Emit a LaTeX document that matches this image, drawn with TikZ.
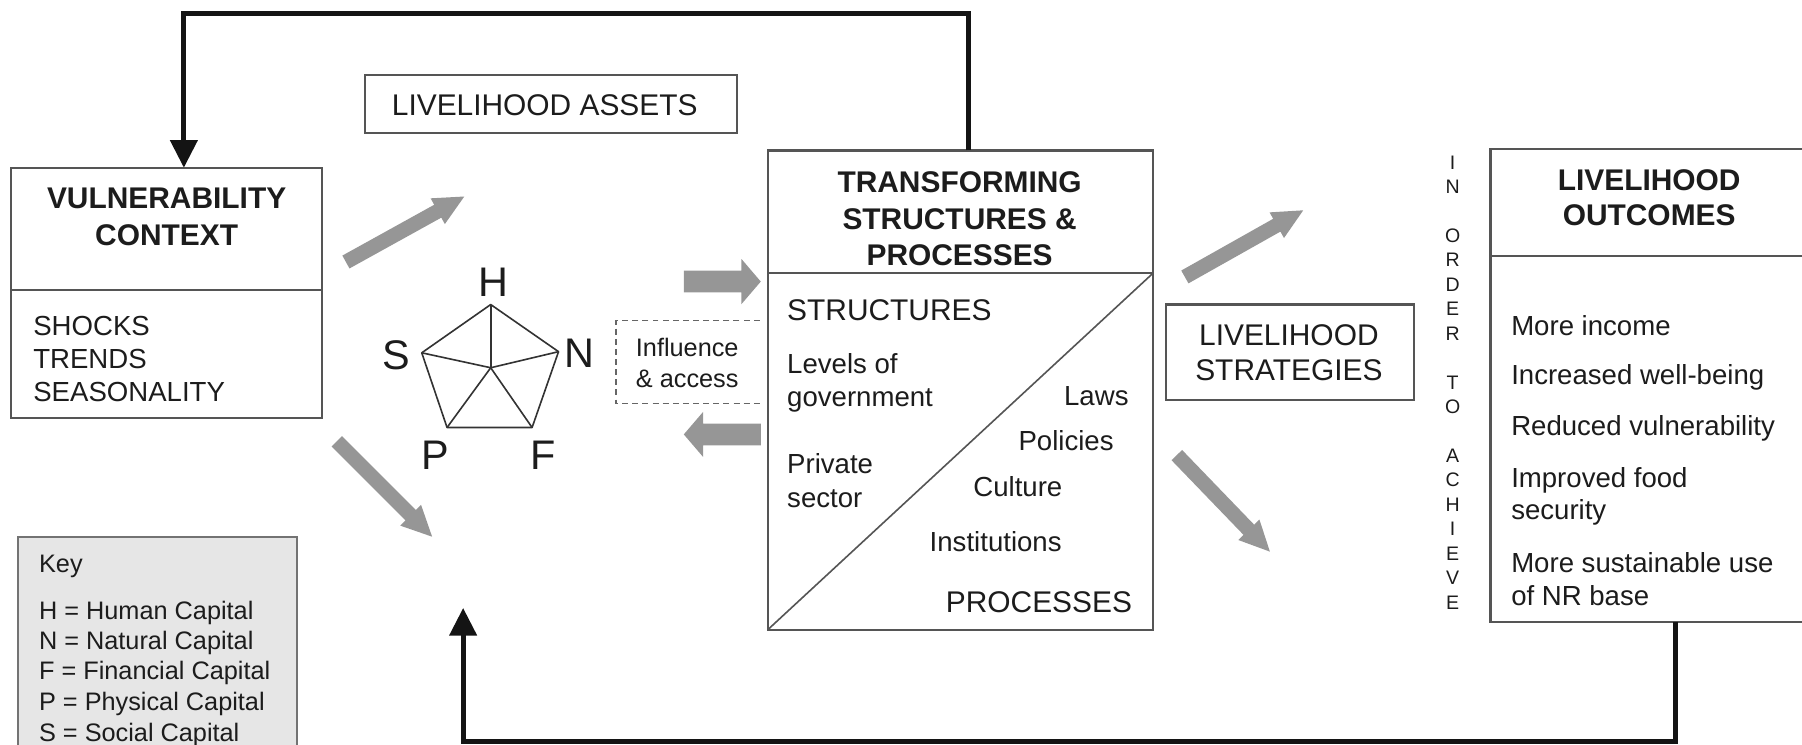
\documentclass[tikz,border=0pt]{standalone}
\usepackage{fontspec}
\setmainfont{Liberation Sans}
\usetikzlibrary{arrows.meta,calc}
\definecolor{boxline}{RGB}{85,85,85}
\definecolor{arrowgray}{RGB}{150,150,150}
\definecolor{keyfill}{RGB}{230,230,230}
\definecolor{inkc}{RGB}{28,28,28}
% #1 tail, #2 tip, #3 shaft half width, #4 head half width, #5 head length
\newcommand{\garrow}[5]{%
  \fill[arrowgray] let \p1=#1, \p2=#2, \n1={atan2(\y2-\y1,\x2-\x1)} in
    ($(\p1)+(\n1+90:#3)$) -- ($(\p2)+(\n1+180:#5)+(\n1+90:#3)$)
    -- ($(\p2)+(\n1+180:#5)+(\n1+90:#4)$) -- (\p2)
    -- ($(\p2)+(\n1+180:#5)+(\n1-90:#4)$) -- ($(\p2)+(\n1+180:#5)+(\n1-90:#3)$)
    -- ($(\p1)+(\n1-90:#3)$) -- cycle;}
\tikzset{
  fB/.style={font=\fontsize{18.5}{22}\selectfont\bfseries},
  fL/.style={font=\fontsize{18.5}{22}\selectfont},
  fM/.style={font=\fontsize{17.07}{20}\selectfont},
  fS/.style={font=\fontsize{15.65}{18}\selectfont},
  fP/.style={font=\fontsize{25.6}{30}\selectfont},
  fV/.style={font=\fontsize{12.1}{14}\selectfont},
  txt/.style={inner sep=0pt, outer sep=0pt, text=inkc},
  box/.style={draw=boxline, line width=0.045cm, inner sep=0pt, outer sep=0pt, fill=white},
  divider/.style={draw=boxline, line width=0.045cm},
  loopline/.style={line width=0.11cm, draw=black!92},
  looparrow/.style={loopline, -{Triangle[length=0.6cm,width=0.58cm]}},
  pent/.style={draw=black!80, line width=0.035cm, line join=round},
  dashbox/.style={draw=black!60, line width=0.035cm, dash pattern=on 0.13cm off 0.09cm}
}
\begin{document}
\begin{tikzpicture}[x=0.025cm, y=-0.025cm]
\useasboundingbox (0,0) rectangle (1568,648);
\clip (0,0) rectangle (1568,648);

% ---------- boxes ----------
\node[box, minimum width=6.75cm, minimum height=5.45cm] (vc) at (145,255) {};
\draw[divider] ($(vc.north west)+(0,106)$) -- ($(vc.north east)+(0,106)$);
\node[box, minimum width=8.075cm, minimum height=1.275cm] (la) at (479.5,90.5) {};
\node[box, minimum width=8.375cm, minimum height=10.425cm] (tr) at (835.5,339.5) {};
\draw[divider] ($(tr.north west)+(0,107)$) -- ($(tr.north east)+(0,107)$);
\draw[divider, line width=0.035cm] (tr.south west) -- ($(tr.north east)+(0,107)$);
\node[box, minimum width=5.375cm, minimum height=2.075cm] (ls) at (1122.5,306.5) {};
\node[box, minimum width=7.2cm, minimum height=10.275cm] (out) at (1441,335.5) {};
\draw[divider] ($(out.north west)+(0,93)$) -- ($(out.north east)+(0,93)$);
\node[box, draw=black!55, fill=keyfill, minimum width=6.05cm, minimum height=4.825cm] (key) at (137,563.5) {};

% ---------- feedback loops ----------
\coordinate (lt) at (160,12);
\draw[looparrow] ($(tr.north)+(7.5,0)$) |- (lt) -- (lt |- vc.north);
\coordinate (lb) at (403,645);
\coordinate (lbt) at (403,529);
\draw[looparrow] ($(out.south)+(17,0)$) |- (lb) -- (lbt);

% ---------- grey arrows ----------
\coordinate (a1t) at (301,228); \coordinate (a1h) at (404,171);
\coordinate (a2t) at (293,384); \coordinate (a2h) at (376,467);
\coordinate (a3t) at (595,245); \coordinate (a3h) at (662,245);
\coordinate (a4t) at (662,378); \coordinate (a4h) at (595,378);
\coordinate (a5t) at (1031,241); \coordinate (a5h) at (1134,183);
\coordinate (a6t) at (1024,396); \coordinate (a6h) at (1105,480);
\garrow{(a1t)}{(a1h)}{0.16cm}{0.32cm}{0.66cm}
\garrow{(a2t)}{(a2h)}{0.16cm}{0.32cm}{0.66cm}
\garrow{(a3t)}{(a3h)}{0.236cm}{0.49cm}{0.42cm}
\garrow{(a4t)}{(a4h)}{0.236cm}{0.49cm}{0.42cm}
\garrow{(a5t)}{(a5h)}{0.16cm}{0.32cm}{0.66cm}
\garrow{(a6t)}{(a6h)}{0.16cm}{0.32cm}{0.66cm}

% ---------- pentagon ----------
\coordinate (pc) at (427,320);
\coordinate (ph) at (427,265);
\coordinate (pn) at (486,306);
\coordinate (pf) at (463,372);
\coordinate (pp) at (389,372);
\coordinate (ps) at (367,307);
\draw[pent] (ph) -- (pn) -- (pf) -- (pp) -- (ps) -- cycle;
\foreach \v in {ph,pn,pf,pp,ps} \draw[pent] (pc) -- (\v);
\node[txt,fP,anchor=base] (lH) at (429,257.9) {H};
\node[txt,fP,anchor=base] (lS) at (345,321.9) {S};
\node[txt,fP,anchor=base] (lN) at (504,319.9) {N};
\node[txt,fP,anchor=base] (lP) at (379,408.9) {P};
\node[txt,fP,anchor=base] (lF) at (473,408.9) {F};

% ---------- influence & access ----------
\coordinate (d1) at (661,279); \coordinate (d2) at (536,279);
\coordinate (d3) at (536,351); \coordinate (d4) at (661,351);
\draw[dashbox] (d1) -- (d2) -- (d3) -- (d4);
\node[txt,fS,anchor=base] (inf1) at (598,309.9) {Influence};
\node[txt,fS,anchor=base] (inf2) at (598,336.9) {\& access};

% ---------- vulnerability context ----------
\node[txt,fB,anchor=base] (vc1) at (145,181.3) {VULNERABILITY};
\node[txt,fB,anchor=base] (vc2) at (145,213.3) {CONTEXT};
\node[txt,fM,anchor=base west] (vc3) at (29,291.6) {SHOCKS};
\node[txt,fM,anchor=base west] (vc4) at (29,320.6) {TRENDS};
\node[txt,fM,anchor=base west] (vc5) at (29,349.6) {SEASONALITY};

% ---------- livelihood assets ----------
\node[txt,fL,anchor=base] (la1) at (474,100.3) {LIVELIHOOD ASSETS};

% ---------- transforming structures ----------
\node[txt,fB,anchor=base] (tr1) at (835,167.3) {TRANSFORMING};
\node[txt,fB,anchor=base] (tr2) at (835,199.3) {STRUCTURES \&};
\node[txt,fB,anchor=base] (tr3) at (835,231.3) {PROCESSES};
\node[txt,fL,anchor=base west] (tr4) at (685,279.3) {STRUCTURES};
\node[txt,fM,anchor=base west] (tr5) at (685,324.6) {Levels of};
\node[txt,fM,anchor=base west] (tr6) at (685,353.6) {government};
\node[txt,fM,anchor=base west] (tr7) at (685,411.6) {Private};
\node[txt,fM,anchor=base west] (tr8) at (685,441.6) {sector};
\node[txt,fM,anchor=base east] (tr9) at (982,352.6) {Laws};
\node[txt,fM,anchor=base east] (tr10) at (969,391.6) {Policies};
\node[txt,fM,anchor=base west] (tr11) at (847,431.6) {Culture};
\node[txt,fM,anchor=base west] (tr12) at (809,479.6) {Institutions};
\node[txt,fL,anchor=base east] (tr13) at (985,533.3) {PROCESSES};

% ---------- strategies ----------
\node[txt,fL,anchor=base] (ls1) at (1121.5,300.8) {LIVELIHOOD};
\node[txt,fL,anchor=base] (ls2) at (1121.5,331.2) {STRATEGIES};

% ---------- in order to achieve ----------
\foreach \k/\ch in {0/I,1/N,3/O,4/R,5/D,6/E,7/R,9/T,10/O,12/A,13/C,14/H,15/I,16/E,17/V,18/E}
  \node[txt,fV,anchor=base] (io\k) at (1264,{147.1+21.28*\k}) {\ch};

% ---------- outcomes ----------
\node[txt,fB,anchor=base] (lo1) at (1435,165.9) {LIVELIHOOD};
\node[txt,fB,anchor=base] (lo2) at (1435,196.3) {OUTCOMES};
\node[txt,fM,anchor=base west] (lo3) at (1315,291.6) {More income};
\node[txt,fM,anchor=base west] (lo4) at (1315,334.9) {Increased well-being};
\node[txt,fM,anchor=base west] (lo5) at (1315,378.9) {Reduced vulnerability};
\node[txt,fM,anchor=base west] (lo6) at (1315,423.9) {Improved food};
\node[txt,fM,anchor=base west] (lo7) at (1315,452.3) {security};
\node[txt,fM,anchor=base west] (lo8) at (1315,497.8) {More sustainable use};
\node[txt,fM,anchor=base west] (lo9) at (1315,527.1) {of NR base};

% ---------- key ----------
\node[txt,fS,anchor=base west] (k0) at (34,497.9) {Key};
\node[txt,fS,anchor=base west] (k1) at (34,538.9) {H = Human Capital};
\node[txt,fS,anchor=base west] (k2) at (34,564.9) {N = Natural Capital};
\node[txt,fS,anchor=base west] (k3) at (34,590.9) {F = Financial Capital};
\node[txt,fS,anchor=base west] (k4) at (34,617.9) {P = Physical Capital};
\node[txt,fS,anchor=base west] (k5) at (34,644.9) {S = Social Capital};
\end{tikzpicture}
\end{document}
